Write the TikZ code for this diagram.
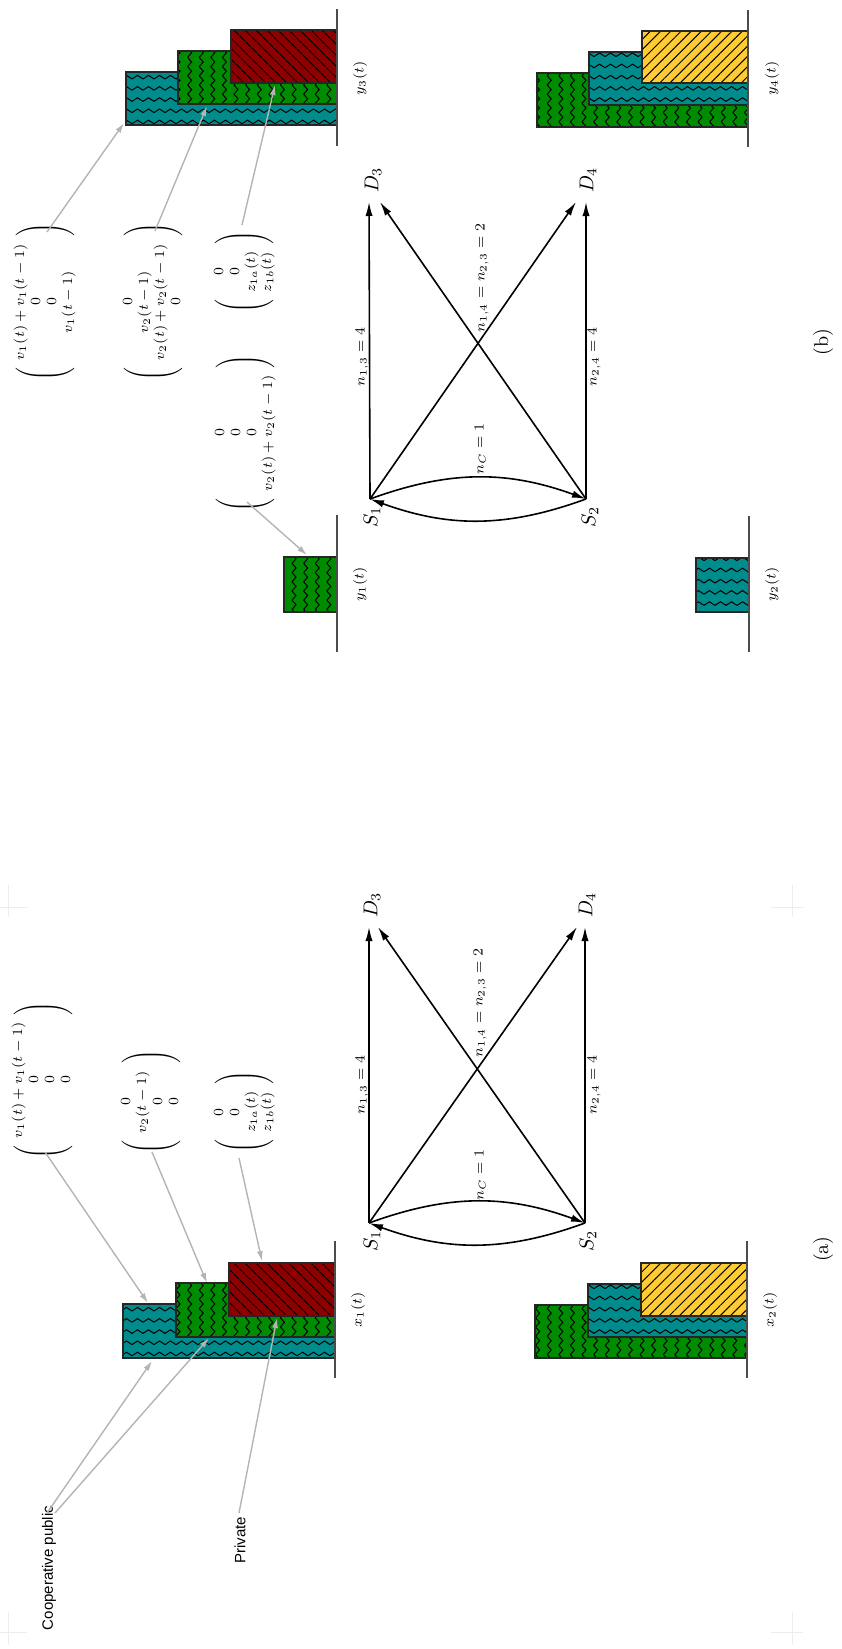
\documentclass[tikz,border=0pt]{standalone}
\usepackage{amsmath}
\usepackage{fontspec}
\newfontfamily\labfont{Liberation Sans}
\usetikzlibrary{patterns,patterns.meta,arrows.meta}
\definecolor{tealc}{RGB}{0,140,140}
\definecolor{greenc}{RGB}{0,140,0}
\definecolor{redc}{RGB}{140,0,0}
\definecolor{yellowc}{RGB}{255,204,51}
\definecolor{arrgray}{RGB}{180,180,180}
\newcommand{\mypmat}[1]{\left(\hspace{3.5pt}\begin{matrix}#1\end{matrix}\hspace{3.5pt}\right)}
\pgfdeclarepatternformonly{hzig}{\pgfqpoint{-1pt}{-1pt}}{\pgfqpoint{6.5pt}{6.6pt}}{\pgfqpoint{5.5pt}{5.6pt}}{%
  \pgfsetlinewidth{0.5pt}%
  \pgfpathmoveto{\pgfqpoint{0pt}{1pt}}%
  \pgfpathlineto{\pgfqpoint{2.75pt}{2.8pt}}%
  \pgfpathlineto{\pgfqpoint{5.5pt}{1pt}}%
  \pgfusepath{stroke}}
\pgfdeclarepatternformonly{vzig}{\pgfqpoint{-1pt}{-1pt}}{\pgfqpoint{6.8pt}{5.6pt}}{\pgfqpoint{5.8pt}{4.6pt}}{%
  \pgfsetlinewidth{0.5pt}%
  \pgfpathmoveto{\pgfqpoint{1pt}{0pt}}%
  \pgfpathlineto{\pgfqpoint{3pt}{2.3pt}}%
  \pgfpathlineto{\pgfqpoint{1pt}{4.6pt}}%
  \pgfusepath{stroke}}
\begin{document}
\begin{tikzpicture}[x=0.5pt,y=-0.5pt,
  box/.style={draw=black!85, line width=0.7pt},
  tealbox/.style={box, preaction={fill=tealc}, pattern=hzig, pattern color=black},
  greenbox/.style={box, preaction={fill=greenc}, pattern=vzig, pattern color=black},
  redbox/.style={box, preaction={fill=redc}, pattern={Lines[angle=-45,distance=4pt,line width=0.5pt]}, pattern color=black},
  yellowbox/.style={box, preaction={fill=yellowc}, pattern={Lines[angle=45,distance=3.6pt,line width=0.5pt]}, pattern color=black},
  baseln/.style={draw=black!70, line width=0.8pt},
  blk/.style={-{Latex[length=7pt,width=3.6pt]}, line width=0.8pt},
  gry/.style={-{Latex[length=5pt,width=3pt]}, draw=arrgray, line width=0.7pt},
  mat/.style={rotate=90, inner sep=0pt, font=\fontsize{7}{8}\selectfont},
  lab/.style={rotate=90, inner sep=0pt, font=\fontsize{7}{8}\selectfont},
  nlab/.style={rotate=90, inner sep=0pt, font=\fontsize{7}{8.5}\selectfont},
  big/.style={rotate=90, inner sep=0pt, font=\fontsize{10}{12}\selectfont},
  sanslab/.style={rotate=90, inner sep=0pt, font=\labfont\fontsize{7.5}{9}\selectfont},
  cropmark/.style={draw=black!7, line width=0.4pt}]
\useasboundingbox (0,0) rectangle (841,1649);

% crop marks
\draw[cropmark] (8,885)--(8,917) (0,907)--(27,907);
\draw[cropmark] (792,885)--(792,917) (771,907)--(803,907);
\draw[cropmark] (8,1612)--(8,1645) (0,1632)--(27,1632);
\draw[cropmark] (792,1612)--(792,1645) (771,1632)--(803,1632);

%%%%%%%%%%%%%%%%%%%% panel (b) %%%%%%%%%%%%%%%%%%%%
% y3 block
\draw[tealbox] (126,72) rectangle (337,125);
\draw[greenbox] (178,51) rectangle (337,104);
\draw[redbox] (231,30) rectangle (337,83);
\draw[baseln] (337,9) -- (337,146);
\node[lab] (y3) at (360,78) {$y_3(t)$};
% y4 block
\draw[greenbox] (537,73) rectangle (748,127);
\draw[tealbox] (589,52) rectangle (748,105);
\draw[yellowbox] (642,31) rectangle (748,83);
\draw[baseln] (748,10) -- (748,147);
\node[lab] (y4) at (772,78) {$y_4(t)$};
% y1 block
\draw[greenbox] (284,557) rectangle (337,612);
\draw[baseln] (337,515) -- (337,652);
\node[lab] (y1) at (360,584) {$y_1(t)$};
% y2 block
\draw[tealbox] (696,558) rectangle (749,612);
\draw[baseln] (749,516) -- (749,652);
\node[lab] (y2) at (772,584) {$y_2(t)$};

% matrices (b)
\node[mat] (bmA) at (45,302) {$\mypmat{v_1(t)+v_1(t-1)\\ 0\\ 0\\ v_1(t-1)}$};
\node[mat] (bmB) at (153,302) {$\mypmat{0\\ v_2(t-1)\\ v_2(t)+v_2(t-1)\\ 0}$};
\node[mat] (bmC) at (244,272) {$\mypmat{0\\ 0\\ z_{1a}(t)\\ z_{1b}(t)}$};
\node[mat] (bmD) at (245,433) {$\mypmat{0\\ 0\\ 0\\ v_2(t)+v_2(t-1)}$};

\coordinate (gb1s) at (47,232);  \coordinate (gb1t) at (124,123);
\coordinate (gb2s) at (155,231); \coordinate (gb2t) at (207,106);
\coordinate (gb3s) at (242,225); \coordinate (gb3t) at (275,85);
\coordinate (gb4s) at (247,502); \coordinate (gb4t) at (307,555);
\draw[gry] (gb1s) -- (gb1t);
\draw[gry] (gb2s) -- (gb2t);
\draw[gry] (gb3s) -- (gb3t);
\draw[gry] (gb4s) -- (gb4t);

% network (b)
\coordinate (bS1) at (370,499);
\coordinate (bS2) at (586,499);
\coordinate (bD3v) at (369,202);
\coordinate (bD3d) at (380,202);
\coordinate (bD4v) at (586,202);
\coordinate (bD4d) at (576,202);
\node[big] (bD3) at (373,180) {$D_3$};
\node[big] (bD4) at (588,180) {$D_4$};
\node[big] (bS1l) at (372,517) {$S_1$};
\node[big] (bS2l) at (590,517) {$S_2$};
\draw[blk] (bS1) -- (bD3v);
\draw[blk] (bS1) -- (bD4d);
\draw[blk] (bS2) -- (bD3d);
\draw[blk] (bS2) -- (bD4v);
\draw[blk] (bS1) to[bend left=20] (bS2);
\draw[blk] (bS2) to[bend left=20] (bS1);
\node[nlab] (bn13) at (362,357) {$n_{1,3}=4$};
\node[nlab] (bn14) at (482,278) {$n_{1,4}=n_{2,3}=2$};
\node[nlab] (bnC) at (480,449) {$n_C=1$};
\node[nlab] (bn24) at (594,357) {$n_{2,4}=4$};
\node[big] (capb) at (823,342) {(b)};

%%%%%%%%%%%%%%%%%%%% panel (a) %%%%%%%%%%%%%%%%%%%%
% x1 block
\draw[tealbox] (123,1304) rectangle (335,1358);
\draw[greenbox] (176,1283) rectangle (335,1337);
\draw[redbox] (229,1263) rectangle (335,1316);
\draw[baseln] (335,1241) -- (335,1378);
\node[lab] (x1) at (358,1310) {$x_1(t)$};
% x2 block
\draw[greenbox] (535,1305) rectangle (747,1358);
\draw[tealbox] (588,1284) rectangle (747,1337);
\draw[yellowbox] (641,1263) rectangle (747,1316);
\draw[baseln] (747,1241) -- (747,1378);
\node[lab] (x2) at (770,1310) {$x_2(t)$};

% matrices (a)
\node[mat] (am1) at (43,1080) {$\mypmat{v_1(t)+v_1(t-1)\\ 0\\ 0\\ 0}$};
\node[mat] (am2) at (151,1102) {$\mypmat{0\\ v_2(t-1)\\ 0\\ 0}$};
\node[mat] (am3) at (244,1112) {$\mypmat{0\\ 0\\ z_{1a}(t)\\ z_{1b}(t)}$};

\node[sanslab] (coop) at (49,1568) {Cooperative public};
\node[sanslab] (priv) at (240,1540) {Private};

\coordinate (ga1s) at (45,1152);  \coordinate (ga1t) at (148,1303);
\coordinate (ga2s) at (152,1152); \coordinate (ga2t) at (207,1283);
\coordinate (ga3s) at (239,1158); \coordinate (ga3t) at (262,1261);
\coordinate (gc1s) at (47,1513);  \coordinate (gc1t) at (152,1361);
\coordinate (gc2s) at (55,1513);  \coordinate (gc2t) at (209,1338);
\coordinate (gps) at (239,1513);  \coordinate (gpt) at (277,1318);
\draw[gry] (ga1s) -- (ga1t);
\draw[gry] (ga2s) -- (ga2t);
\draw[gry] (ga3s) -- (ga3t);
\draw[gry] (gc1s) -- (gc1t);
\draw[gry] (gc2s) -- (gc2t);
\draw[gry] (gps) -- (gpt);

% network (a)
\coordinate (aS1) at (369,1223);
\coordinate (aS2) at (585,1223);
\coordinate (aD3v) at (369,927);
\coordinate (aD3d) at (378,927);
\coordinate (aD4v) at (585,927);
\coordinate (aD4d) at (577,927);
\node[big] (aD3) at (372,905) {$D_3$};
\node[big] (aD4) at (587,905) {$D_4$};
\node[big] (aS1l) at (372,1241) {$S_1$};
\node[big] (aS2l) at (588,1241) {$S_2$};
\draw[blk] (aS1) -- (aD3v);
\draw[blk] (aS1) -- (aD4d);
\draw[blk] (aS2) -- (aD3d);
\draw[blk] (aS2) -- (aD4v);
\draw[blk] (aS1) to[bend left=20] (aS2);
\draw[blk] (aS2) to[bend left=20] (aS1);
\node[nlab] (an13) at (362,1085) {$n_{1,3}=4$};
\node[nlab] (an14) at (480,1003) {$n_{1,4}=n_{2,3}=2$};
\node[nlab] (anC) at (480,1175) {$n_C=1$};
\node[nlab] (an24) at (594,1085) {$n_{2,4}=4$};
\node[big] (capa) at (823,1249) {(a)};
\end{tikzpicture}
\end{document}
